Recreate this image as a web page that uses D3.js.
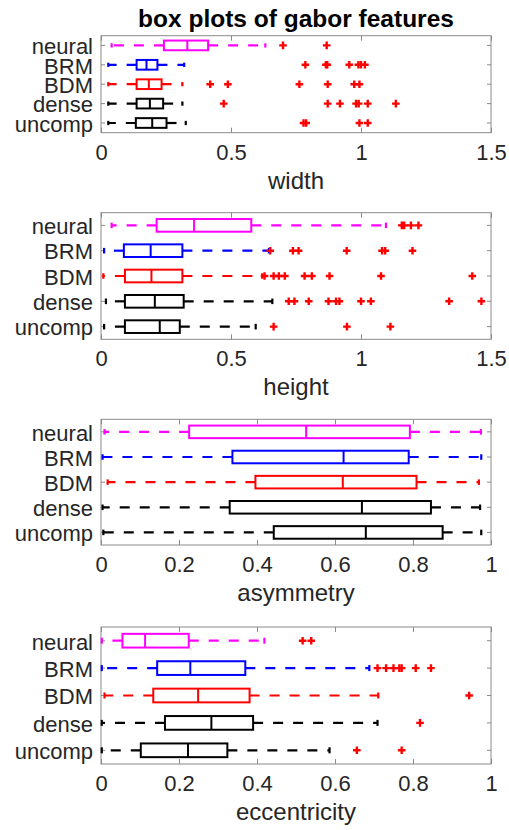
<!DOCTYPE html>
<html>
<head>
<meta charset="utf-8">
<script src="https://cdn.jsdelivr.net/npm/d3@7"></script>
<style>
  body { margin: 0; background: #fff; }
  text { font-family: "Liberation Sans", Arial, Helvetica, sans-serif; }
</style>
</head>
<body>
<div id="chart"></div>
<script>
// groups, top to bottom
var groups = ["neural", "BRM", "BDM", "dense", "uncomp"];
var groupColors = ["#ff00ff", "#0000ff", "#ff0000", "#000000", "#000000"];

var features = ["width", "height", "asymmetry", "eccentricity"];
var xMaxes = [1.5, 1.5, 1, 1];
var wideTicks = [0, 0.5, 1, 1.5];
var unitTicks = [0, 0.2, 0.4, 0.6, 0.8, 1];

// [lower whisker, q1, median, q3, upper whisker] per group
var widthStats = [
  [0.041, 0.242, 0.332, 0.412, 0.632],
  [0.028, 0.137, 0.175, 0.217, 0.320],
  [0.028, 0.137, 0.184, 0.233, 0.313],
  [0.028, 0.137, 0.188, 0.239, 0.313],
  [0.028, 0.134, 0.197, 0.252, 0.326]
];
var widthOutliers = [
  [0.70, 0.868],
  [0.786, 0.865, 0.870, 0.955, 0.99, 1.0, 1.015],
  [0.42, 0.488, 0.763, 0.872, 0.974, 0.994],
  [0.472, 0.872, 0.919, 0.981, 0.991, 1.026, 1.134],
  [0.779, 0.789, 0.994, 1.026]
];

var heightStats = [
  [0.041, 0.214, 0.358, 0.578, 1.096],
  [0.012, 0.088, 0.191, 0.313, 0.646],
  [0.009, 0.092, 0.194, 0.313, 0.620],
  [0.019, 0.092, 0.207, 0.318, 0.659],
  [0.012, 0.092, 0.226, 0.303, 0.595]
];
var heightOutliers = [
  [1.157, 1.166, 1.192, 1.221],
  [0.651, 0.738, 0.76, 0.945, 1.081, 1.093, 1.198],
  [0.629, 0.664, 0.684, 0.707, 0.783, 0.811, 0.879, 1.077, 1.428],
  [0.722, 0.744, 0.799, 0.875, 0.904, 0.917, 1.0, 1.038, 1.339, 1.463],
  [0.664, 0.946, 1.113]
];

var asymmetryStats = [
  [0.009, 0.226, 0.526, 0.792, 0.974],
  [0.004, 0.337, 0.622, 0.789, 0.975],
  [0.017, 0.396, 0.620, 0.809, 0.969],
  [0.004, 0.330, 0.669, 0.846, 0.972],
  [0.006, 0.443, 0.679, 0.876, 0.975]
];
var asymmetryOutliers = [[], [], [], [], []];

var eccentricityStats = [
  [0.002, 0.055, 0.113, 0.225, 0.419],
  [0.002, 0.144, 0.229, 0.370, 0.688],
  [0.009, 0.134, 0.249, 0.381, 0.711],
  [0.002, 0.164, 0.283, 0.390, 0.709],
  [0.002, 0.102, 0.223, 0.324, 0.586]
];
var eccentricityOutliers = [
  [0.517, 0.539],
  [0.709, 0.731, 0.75, 0.765, 0.771, 0.807, 0.846],
  [0.944],
  [0.818],
  [0.656, 0.771]
];

var allStats = [widthStats, heightStats, asymmetryStats, eccentricityStats];
var allOutliers = [widthOutliers, heightOutliers, asymmetryOutliers, eccentricityOutliers];
var allTicks = [wideTicks, wideTicks, unitTicks, unitTicks];

// layout
var width = 509, height = 830;
var left = 101, right = 491;
var panels = [
  { top: 35.7, bottom: 132.7 },
  { top: 212.7, bottom: 339.3 },
  { top: 419.3, bottom: 545 },
  { top: 627, bottom: 764 }
];
var axisColor = "#8a8a8a";
var textColor = "#262626";

var svg = d3.select("#chart")
  .append("svg")
    .attr("width", width)
    .attr("height", height);

svg.append("text")
  .attr("x", (left + right) / 2)
  .attr("y", 27)
  .attr("text-anchor", "middle")
  .style("font-size", "24.5px")
  .style("font-weight", "bold")
  .style("fill", "#000")
  .text("box plots of gabor features");

features.forEach(function(feat, p) {
  var pan = panels[p];
  var g = svg.append("g");

  var x = d3.scaleLinear().domain([0, xMaxes[p]]).range([left, right]);
  var y = d3.scaleBand().domain(groups).range([pan.top, pan.bottom]);
  var band = y.bandwidth();
  var cy = function(name) { return y(name) + band / 2; };

  // frame
  g.append("rect")
    .attr("x", left).attr("y", pan.top)
    .attr("width", right - left).attr("height", pan.bottom - pan.top)
    .attr("fill", "none").attr("stroke", axisColor).attr("stroke-width", 1);

  // x axes (ticks inward)
  var xb = g.append("g")
    .attr("transform", "translate(0," + pan.bottom + ")")
    .call(d3.axisBottom(x).tickValues(allTicks[p]).tickSize(-5).tickFormat(function(d) { return String(d); }));
  xb.select(".domain").remove();
  xb.selectAll("line").attr("stroke", axisColor);
  xb.selectAll("text")
    .attr("y", 27).attr("dy", null)
    .style("font-size", "22px").style("fill", textColor);

  var xt = g.append("g")
    .attr("transform", "translate(0," + pan.top + ")")
    .call(d3.axisTop(x).tickValues(allTicks[p]).tickSize(-5).tickFormat(""));
  xt.select(".domain").remove();
  xt.selectAll("line").attr("stroke", axisColor);

  // y axes
  var yl = g.append("g")
    .attr("transform", "translate(" + left + ",0)")
    .call(d3.axisLeft(y).tickSize(-4));
  yl.select(".domain").remove();
  yl.selectAll("line").attr("stroke", axisColor);
  yl.selectAll("text")
    .attr("x", -8).attr("dy", "0.4em")
    .style("font-size", "22px").style("fill", textColor);

  var yr = g.append("g")
    .attr("transform", "translate(" + right + ",0)")
    .call(d3.axisRight(y).tickSize(-4).tickFormat(""));
  yr.select(".domain").remove();
  yr.selectAll("line").attr("stroke", axisColor);

  // axis label
  g.append("text")
    .attr("x", (left + right) / 2)
    .attr("y", pan.bottom + 56)
    .attr("text-anchor", "middle")
    .style("font-size", "24px")
    .style("fill", textColor)
    .text(feat);

  // boxes
  var stats = allStats[p];
  var outl = allOutliers[p];
  groups.forEach(function(name, i) {
    var s = stats[i];
    var col = groupColors[i];
    var yc = cy(name);
    var bg = g.append("g");

    // whiskers, dashed from the box outward
    bg.append("line")
      .attr("x1", x(s[1])).attr("x2", x(s[0]))
      .attr("y1", yc).attr("y2", yc)
      .attr("stroke", col).attr("stroke-width", 2.2).attr("stroke-dasharray", "10,10");
    bg.append("line")
      .attr("x1", x(s[3])).attr("x2", x(s[4]))
      .attr("y1", yc).attr("y2", yc)
      .attr("stroke", col).attr("stroke-width", 2.2).attr("stroke-dasharray", "10,10");

    // whisker caps
    [s[0], s[4]].forEach(function(v) {
      bg.append("line")
        .attr("x1", x(v)).attr("x2", x(v))
        .attr("y1", yc - band * 0.11).attr("y2", yc + band * 0.11)
        .attr("stroke", col).attr("stroke-width", 2.2);
    });

    // box
    bg.append("rect")
      .attr("x", x(s[1])).attr("y", yc - band * 0.25)
      .attr("width", x(s[3]) - x(s[1])).attr("height", band * 0.5)
      .attr("fill", "none").attr("stroke", col).attr("stroke-width", 2);

    // median
    bg.append("line")
      .attr("x1", x(s[2])).attr("x2", x(s[2]))
      .attr("y1", yc - band * 0.25).attr("y2", yc + band * 0.25)
      .attr("stroke", col).attr("stroke-width", 2);

    // outliers as red plus markers
    bg.selectAll("path.out")
      .data(outl[i])
      .enter()
      .append("path")
        .attr("class", "out")
        .attr("d", function(v) {
          var px = x(v), h = 3.8;
          return "M" + (px - h) + "," + yc + "H" + (px + h) + "M" + px + "," + (yc - h) + "V" + (yc + h);
        })
        .attr("stroke", "#ff0000").attr("stroke-width", 2.4).attr("fill", "none");
  });
});
</script>
</body>
</html>
